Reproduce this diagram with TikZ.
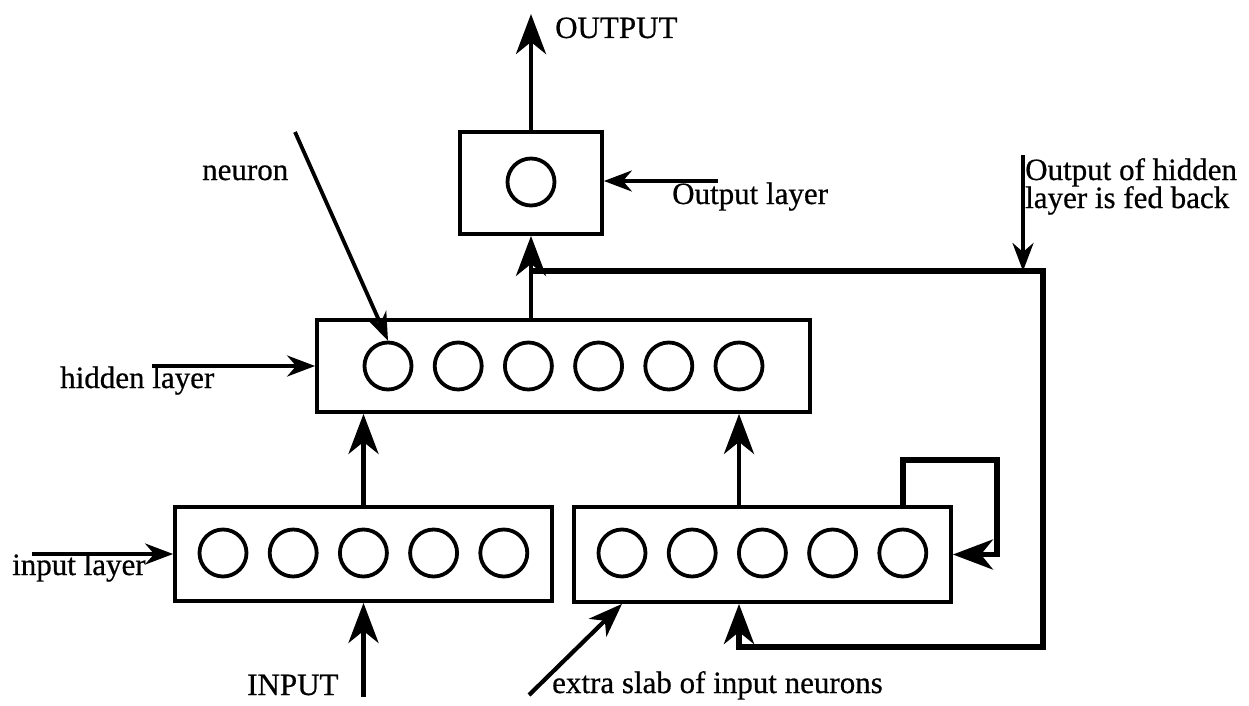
\documentclass[tikz,border=0pt]{standalone}
\usepackage{fontspec}
\setmainfont{Liberation Serif}[FakeBold=0.6]
\usetikzlibrary{arrows.meta,calc}
\begin{document}
\begin{tikzpicture}[x=1pt,y=-1pt,
  box/.style={draw,line width=3.8pt,rectangle,inner sep=0pt},
  neu/.style={draw,line width=3.8pt,circle,minimum size=47pt,inner sep=0pt},
  big/.style={line width=4.6pt,-{Stealth[length=40pt,width=30pt,inset=12pt]}},
  mid/.style={line width=4.2pt,-{Stealth[length=34pt,width=25pt,inset=10pt]}},
  small/.style={line width=3.8pt,-{Stealth[length=28pt,width=21pt,inset=9pt]}},
  lbl/.style={anchor=base west,inner sep=0pt,font=\fontsize{31}{36}\selectfont}]
\useasboundingbox (0,0) rectangle (1249,706);
% boxes
\node[box,minimum width=142pt,minimum height=102pt] (out) at (531,183) {};
\node[neu] (o1) at (531,182) {};
\node[box,minimum width=493pt,minimum height=92pt] (hid) at (563.5,366) {};
\foreach \i in {1,...,6} \node[neu] (h\i) at ({388+70.2*(\i-1)},366) {};
\node[box,minimum width=377pt,minimum height=94pt] (inp) at (363.5,554) {};
\foreach \i in {1,...,5} \node[neu] (i\i) at ({223+70.2*(\i-1)},553) {};
\node[box,minimum width=377pt,minimum height=95pt] (slab) at (762.5,554.5) {};
\foreach \i in {1,...,5} \node[neu] (s\i) at ({622+70.2*(\i-1)},553) {};
% labels
\node[lbl] (toutput) at (555,38) {OUTPUT};
\node[lbl] (toutl) at (672,204) {Output layer};
\node[lbl] (tneuron) at (202,180) {neuron};
\node[lbl] (thid) at (60,388) {hidden layer};
\node[lbl] (tinl) at (12,575) {input layer};
\node[lbl] (tinput) at (247,695) {INPUT};
\node[lbl] (tslab) at (552,693) {extra slab of input neurons};
\node[lbl] (tfb1) at (1025,180) {Output of hidden};
\node[lbl] (tfb2) at (1025,208) {layer is fed back};
% coordinates
\coordinate (outtip) at (531,14);
\coordinate (fb) at (531,271);
\coordinate (fbr) at (1043,271);
\coordinate (fbb) at (1043,647);
\coordinate (inbot) at (363.5,697);
\coordinate (lp1) at (903,460);
\coordinate (lp2) at (997,460);
\coordinate (lp3) at (997,554.5);
\coordinate (olp) at (718,181);
\coordinate (nst) at (295,132);
\coordinate (hlp) at (152,366);
\coordinate (ilp) at (32,554);
\coordinate (es) at (529,695);
\coordinate (fbt) at (1023,155);
% connectors
\draw[big] (out.north) -- (outtip);
\draw[big] (hid.north -| out.south) -- (out.south);
\draw[big] (inp.north) -- (hid.south -| inp.north);
\draw[big] (slab.north -| h6) -- (hid.south -| h6);
\draw[big] (inbot) -- (inp.south);
\draw[big,line width=6pt] (fb) -- (fbr) -- (fbb) -- (fbb -| h6) -- (slab.south -| h6);
\draw[big,line width=5.5pt] (slab.north -| lp1) -- (lp1) -- (lp2) -- (lp3) -- (slab.east);
\draw[small] (olp) -- (out.east |- olp);
\draw[small] (nst) -- (h1.north);
\draw[small] (hlp) -- (hid.west);
\draw[small] (ilp) -- (inp.west);
\draw[mid] (es) -- (slab.south -| s1);
\draw[small] (fbt) -- (fbt |- fb);
\end{tikzpicture}
\end{document}
